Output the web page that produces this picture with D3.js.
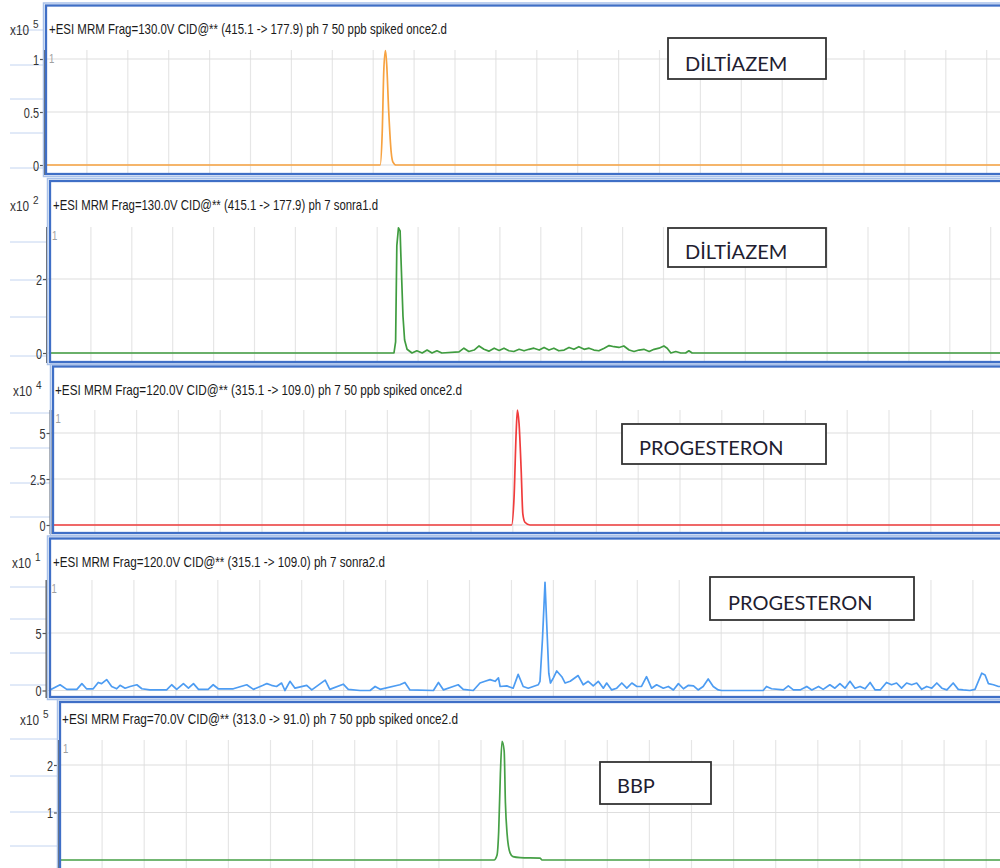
<!DOCTYPE html>
<html><head><meta charset="utf-8">
<script src="https://cdn.jsdelivr.net/npm/d3@7"></script>
<style>body{margin:0;background:#fff}svg{display:block}</style>
</head><body>
<svg id="c" width="1000" height="868"></svg>
<script>
// ---------- DATA (retention time in min, intensity in units of the panel's x10^n) ----------
const panelTitles = [
  "+ESI MRM Frag=130.0V CID@** (415.1 -> 177.9) ph 7 50 ppb spiked once2.d",
  "+ESI MRM Frag=130.0V CID@** (415.1 -> 177.9) ph 7 sonra1.d",
  "+ESI MRM Frag=120.0V CID@** (315.1 -> 109.0) ph 7 50 ppb spiked once2.d",
  "+ESI MRM Frag=120.0V CID@** (315.1 -> 109.0) ph 7 sonra2.d",
  "+ESI MRM Frag=70.0V CID@** (313.0 -> 91.0) ph 7 50 ppb spiked once2.d"
];
const compoundLabels = ["DİLTİAZEM", "DİLTİAZEM", "PROGESTERON", "PROGESTERON", "BBP"];
const exponents = [5, 2, 4, 1, 5];
const yTickValues = [[0, 0.5, 1], [0, 2], [0, 2.5, 5], [0, 5], [1, 2]];

const diltiazemSpiked = [[0,0],[8.17,0],[8.22,0.3],[8.26,0.9],[8.30,1.08],[8.33,0.95],[8.38,0.5],[8.44,0.12],[8.48,0.03],[8.56,0],[23.6,0]];

const diltiazemSonra1 = [[0,0],[8.41,0],[8.45,0.3],[8.48,2.9],[8.52,3.38],[8.56,3.3],[8.58,2.6],[8.63,1.0],[8.67,0.35],[8.73,0.1],
  [8.85,0],[8.97,0.06],[9.10,0],[9.22,0.08],[9.34,0],[9.46,0.06],[9.58,0],[10.00,0.03],[10.12,0.13],[10.24,0.04],[10.37,0.08],
  [10.49,0.19],[10.61,0.1],[10.73,0.05],[10.86,0.13],[10.98,0.07],[11.10,0.13],[11.22,0.06],[11.34,0.04],[11.47,0.1],[11.59,0.06],
  [11.71,0.1],[11.83,0.13],[11.96,0.08],[12.08,0.15],[12.20,0.08],[12.32,0.13],[12.44,0.06],[12.57,0.08],[12.69,0.15],[12.81,0.1],
  [12.93,0.17],[13.06,0.1],[13.18,0.13],[13.30,0.08],[13.42,0.06],[13.55,0.13],[13.67,0.2],[13.79,0.17],[13.91,0.15],[14.03,0.19],
  [14.16,0.08],[14.28,0.04],[14.40,0.08],[14.52,0.1],[14.65,0.04],[14.77,0.1],[14.89,0.13],[15.01,0.19],[15.09,0.13],[15.18,0],
  [15.30,0.04],[15.42,0],[15.54,0],[15.62,0.06],[15.70,0],[23.6,0]];

const progesteroneSpiked = [[0,0],[10.97,0],[11.03,1.5],[11.08,5.0],[11.11,6.25],[11.15,5.5],[11.20,3.0],[11.24,0.6],[11.29,0.15],[11.41,0],[23.6,0]];

const progesteroneSonra2 = [[0,0.05],[0.24,0.5],[0.40,0.1],[0.64,0.1],[0.76,0.6],[0.87,0.15],[1.03,0.15],[1.15,0.7],[1.23,0.6],[1.35,0.95],
  [1.47,0.35],[1.59,0.15],[1.67,0.45],[1.79,0.2],[1.91,0.35],[2.07,0.5],[2.19,0.15],[2.38,0.05],[2.78,0.05],[2.90,0.5],[3.02,0.1],
  [3.18,0.6],[3.30,0.2],[3.42,0.6],[3.54,0.1],[3.77,0.1],[3.89,0.5],[4.01,0.15],[4.37,0.15],[4.69,0.5],[4.85,0.1],[5.08,0.45],
  [5.17,0.6],[5.28,0.45],[5.40,0.35],[5.52,0.65],[5.60,0],[5.72,0.8],[5.84,0.2],[6.12,0.45],[6.24,0.05],[6.56,0.9],[6.67,0.1],
  [6.99,0.55],[7.11,0.1],[7.39,0],[7.63,0],[7.75,0.35],[7.87,0.1],[8.34,0.5],[8.46,0.7],[8.58,0.05],[9.14,0],[9.26,0.7],[9.38,0.05],
  [9.61,0.35],[9.73,0.5],[9.85,0.1],[10.09,0],[10.25,0.65],[10.37,0.8],[10.49,0.95],[10.61,0.8],[10.69,1.1],[10.73,0.35],[10.89,0.4],
  [11.04,0.2],[11.16,1.4],[11.28,0.35],[11.40,0.2],[11.52,0.35],[11.64,0.5],[11.68,0.8],[11.74,4.5],[11.80,9.4],[11.85,5.0],[11.89,1.5],
  [11.93,0.65],[12.00,1.1],[12.08,1.7],[12.20,1.2],[12.28,0.65],[12.40,0.8],[12.59,1.3],[12.71,0.5],[12.83,0.8],[12.95,0.4],[13.07,0.8],
  [13.19,0.2],[13.27,0.65],[13.39,0.05],[13.51,0.2],[13.63,0.65],[13.75,0.2],[13.87,0.65],[13.99,0.35],[14.10,0.35],[14.22,1.2],
  [14.34,0.2],[14.46,0.5],[14.62,0.2],[14.74,0.35],[14.86,0.05],[14.98,0.6],[15.10,0.15],[15.22,0.45],[15.34,0.4],[15.45,0.05],
  [15.57,0.35],[15.69,1.0],[15.81,0.35],[15.93,0.05],[16.01,0],[17.00,0],[17.08,0.35],[17.20,0.15],[17.48,0.05],[17.60,0.4],
  [17.72,0.05],[17.88,0.05],[18.04,0.35],[18.16,0.05],[18.32,0.35],[18.43,0.1],[18.59,0.5],[18.71,0.2],[18.83,0.6],[18.95,0.2],
  [19.07,0.8],[19.19,0.2],[19.31,0.35],[19.43,0.15],[19.55,0.7],[19.67,0.05],[19.79,0.05],[19.94,0.7],[20.06,0.5],[20.18,0.65],
  [20.30,0.2],[20.42,0.65],[20.54,0.5],[20.66,0.65],[20.78,0.1],[20.90,0.35],[21.02,0.2],[21.14,0.65],[21.26,0.2],[21.38,0.05],
  [21.53,0.65],[21.65,0.1],[21.77,0.05],[21.93,0],[22.05,0.1],[22.21,1.5],[22.29,1.35],[22.37,0.6],[22.49,0.5],[22.61,0.35],[23.6,0.35]];

const bbpSpiked = [[0,0],[10.31,0],[10.38,0.1],[10.42,0.6],[10.46,1.8],[10.50,2.5],[10.55,2.3],[10.58,1.2],[10.62,0.55],[10.69,0.15],
  [10.76,0.07],[10.93,0.05],[11.40,0.04],[11.45,0],[23.6,0]];

const seriesList = [diltiazemSpiked, diltiazemSonra1, progesteroneSpiked, progesteroneSonra2, bbpSpiked];
const seriesColors = ["#f7a240", "#3f9c3f", "#f03c3c", "#4d9cf2", "#46a046"];
const timeMax = 23.6;

// ---------- LAYOUT ----------
const layout = [
  {left:46, top:5.5, bottom:174, axisX:44, plotTop:50, y0:165, refV:1, refY:59, step:40.9, smooth:true,
   title:[49,398,34], exp:[10,35], box:[668,38,158,41], boxText:[685,71], margin:[30,65,99,133,168]},
  {left:50, top:181, bottom:362, axisX:47, plotTop:227, y0:353, refV:2, refY:279, step:40.9, smooth:false,
   title:[53,325,210], exp:[10,211], box:[668,228,158,39], boxText:[685,259], margin:[242,280,317,356]},
  {left:53, top:366.5, bottom:533, axisX:50.5, plotTop:410, y0:525, refV:5, refY:433, step:41.8, smooth:true,
   title:[55,407,395], exp:[13,396], box:[622,424,204,40], boxText:[639,455], margin:[413,448,483,517]},
  {left:50, top:538.5, bottom:697, axisX:46.5, plotTop:580, y0:690.5, refV:5, refY:633, step:41.95, smooth:false,
   title:[53,332,567], exp:[12,568], box:[710,577,204,43], boxText:[728,610], margin:[587,619,653,685]},
  {left:60, top:702, bottom:880, axisX:58, plotTop:740, y0:860, refV:2, refY:765, step:42.1, smooth:true,
   title:[62,396,724], exp:[20,725], box:[600,762,111,42], boxText:[617,793], margin:[739,776,812,846]}
];

const svg = d3.select("#c");
const defs = svg.append("defs");
const RIGHT = 1003;

layout.forEach((L, i) => {
  const g = svg.append("g");
  const x = d3.scaleLinear().domain([0, timeMax]).range([L.left, L.left + timeMax * L.step]);
  const y = d3.scaleLinear().domain([0, L.refV]).range([L.y0, L.refY]);

  // left-margin light blue lines
  g.selectAll("line.m").data(L.margin).join("line")
    .attr("x1", 10).attr("x2", L.axisX).attr("y1", d => d).attr("y2", d => d)
    .attr("stroke", "#c3d4f0").attr("stroke-width", 1);

  // grid
  const gridBottom = Math.min(L.bottom, 868);
  g.selectAll("line.vg").data(d3.range(1, 24)).join("line")
    .attr("x1", d => x(d)).attr("x2", d => x(d))
    .attr("y1", L.plotTop).attr("y2", gridBottom)
    .attr("stroke", "#e6e6e6").attr("stroke-width", 1.2);
  g.selectAll("line.hg").data(yTickValues[i]).join("line")
    .attr("x1", L.axisX).attr("x2", RIGHT)
    .attr("y1", d => y(d)).attr("y2", d => y(d))
    .attr("stroke", "#dedede").attr("stroke-width", 1.2);

  // trace
  const clipId = "clip" + i;
  defs.append("clipPath").attr("id", clipId).append("rect")
    .attr("x", L.left).attr("y", L.plotTop - 4).attr("width", RIGHT - L.left).attr("height", gridBottom - L.plotTop + 4);
  const line = d3.line().x(d => x(d[0])).y(d => y(d[1]))
    .curve(L.smooth ? d3.curveMonotoneX : d3.curveLinear);
  g.append("path").datum(seriesList[i])
    .attr("d", line).attr("fill", "none")
    .attr("stroke", seriesColors[i]).attr("stroke-width", 1.7)
    .attr("stroke-linejoin", "round")
    .attr("clip-path", `url(#${clipId})`);

  // y axis
  const ax = g.append("g").attr("transform", `translate(${L.axisX},0)`)
    .call(d3.axisLeft(y).tickValues(yTickValues[i]).tickSize(4).tickSizeOuter(0).tickFormat(d3.format("~g")));
  ax.select(".domain").remove();
  ax.selectAll(".tick line").attr("stroke", "#555").attr("stroke-width", 1.2);
  ax.selectAll(".tick text")
    .attr("x", -5 / 0.78).attr("dy", "0.36em")
    .attr("transform", "scale(0.78,1)")
    .attr("fill", "#333").style("font-family", "'Liberation Sans', Arial, sans-serif").style("font-size", "14px");
  g.append("line").attr("x1", L.axisX).attr("x2", L.axisX)
    .attr("y1", L.plotTop).attr("y2", Math.min(L.bottom + 1, 868))
    .attr("stroke", "#5a5a5a").attr("stroke-width", 2);

  // trace number
  g.append("text").attr("x", L.axisX + 5).attr("y", L.plotTop + 13)
    .attr("fill", "#a0a0a0").style("font-family", "'Liberation Sans', Arial, sans-serif").style("font-size", "12px")
    .attr("transform", `translate(${(L.axisX + 5) * 0.2},0) scale(0.8,1)`)
    .text("1");

  // frame (outer light + inner dark)
  g.append("rect").attr("x", L.left - 2.5).attr("y", L.top - 2.5)
    .attr("width", RIGHT - L.left + 5).attr("height", L.bottom - L.top + 5)
    .attr("fill", "none").attr("stroke", "#a9c1ea").attr("stroke-width", 1.5);
  g.append("rect").attr("x", L.left).attr("y", L.top)
    .attr("width", RIGHT - L.left).attr("height", L.bottom - L.top)
    .attr("fill", "none").attr("stroke", "#3f6fc6").attr("stroke-width", 2.3);

  // title
  g.append("text").attr("x", L.title[0]).attr("y", L.title[2])
    .attr("textLength", L.title[1]).attr("lengthAdjust", "spacingAndGlyphs")
    .attr("fill", "#1a1a1a").style("font-family", "'Liberation Sans', Arial, sans-serif").style("font-size", "15px")
    .text(panelTitles[i]);

  // exponent
  g.append("text").attr("x", L.exp[0]).attr("y", L.exp[1])
    .attr("textLength", 19).attr("lengthAdjust", "spacingAndGlyphs")
    .attr("fill", "#333").style("font-family", "'Liberation Sans', Arial, sans-serif").style("font-size", "14px")
    .text("x10");
  g.append("text").attr("x", L.exp[0] + 23).attr("y", L.exp[1] - 7)
    .attr("fill", "#333").style("font-family", "'Liberation Sans', Arial, sans-serif").style("font-size", "10px")
    .text(exponents[i]);

  // compound label box
  g.append("rect").attr("x", L.box[0]).attr("y", L.box[1]).attr("width", L.box[2]).attr("height", L.box[3])
    .attr("fill", "#fff").attr("stroke", "#333").attr("stroke-width", 1.8);
  g.append("text").attr("x", L.boxText[0]).attr("y", L.boxText[1])
    .attr("fill", "#1e2030").style("font-family", "Lato, 'Open Sans', sans-serif").style("font-size", "20px")
    .text(compoundLabels[i]);
});
</script>
</body></html>
